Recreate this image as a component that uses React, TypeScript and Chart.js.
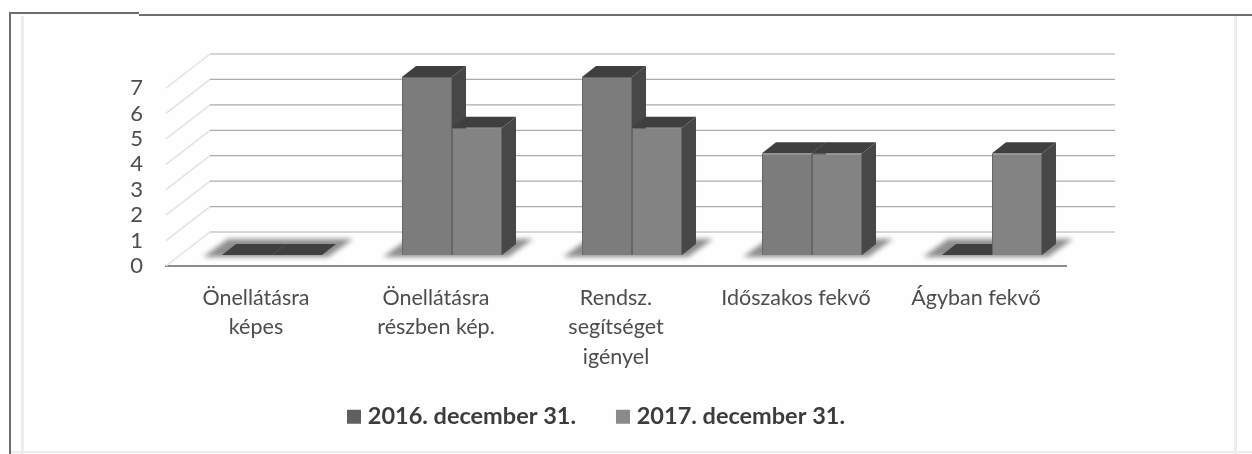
import React, { useEffect, useRef } from "react";
import { Chart, registerables } from "chart.js";

Chart.register(...registerables);

const categories = [
  ["Önellátásra", "képes"],
  ["Önellátásra", "részben kép."],
  ["Rendsz.", "segítséget", "igényel"],
  ["Időszakos fekvő"],
  ["Ágyban fekvő"],
];
const series2016 = [0, 7, 7, 4, 0];
const series2017 = [0, 5, 5, 4, 4];
const seriesNames = ["2016. december 31.", "2017. december 31."];

const W = 1252;
const H = 454;
const AREA_LEFT = 166;
const AREA_RIGHT = 1066;
const AREA_TOP = 88;
const AREA_BOTTOM = 266;
const WALL_DX = 44;
const WALL_DY = -34;
const BAR_DX = 16;
const BAR_DY = -11;
const SIDE_DX = 14;
const SIDE_DY = -11;

const poly = (ctx: CanvasRenderingContext2D, pts: number[][], fill: string) => {
  ctx.beginPath();
  pts.forEach(([x, y], i) => (i ? ctx.lineTo(x, y) : ctx.moveTo(x, y)));
  ctx.closePath();
  ctx.fillStyle = fill;
  ctx.fill();
};

const scenePlugin = {
  id: "scene3d",
  beforeDraw(chart: any) {
    const { ctx } = chart;
    ctx.save();
    ctx.fillStyle = "#fefefe";
    ctx.fillRect(0, 0, W, H);
    // scanned frame
    ctx.fillStyle = "#ececec";
    ctx.fillRect(21, 16, 3, H - 16);
    ctx.fillRect(1234, 16, 3, H - 16);
    ctx.fillRect(10, 451, W - 10, 2);
    ctx.fillStyle = "#6e6e6e";
    ctx.fillRect(9, 12, 2, H - 12);
    ctx.fillRect(9, 12, 130, 2);
    ctx.fillRect(139, 14, W - 139, 2);
    ctx.restore();
  },
  afterLayout(chart: any) {
    const lg = chart.legend;
    if (lg) {
      const w = lg.right - lg.left;
      const h = lg.height;
      lg.left = 307;
      lg.right = lg.left + w;
      lg.top = 360;
      lg.bottom = lg.top + h;
    }
  },
  beforeDatasetsDraw(chart: any) {
    const { ctx, scales } = chart;
    const y = scales.y;
    const x = scales.x;
    ctx.save();
    y.ticks.forEach((t: any) => {
      const py = y.getPixelForValue(t.value);
      // slanted side-wall line
      ctx.strokeStyle = "#e2e2e2";
      ctx.lineWidth = 1.5;
      ctx.beginPath();
      ctx.moveTo(x.left, py);
      ctx.lineTo(x.left + WALL_DX, py + WALL_DY);
      ctx.stroke();
      // back-wall line
      ctx.strokeStyle = "#acacac";
      ctx.lineWidth = 1.2;
      ctx.beginPath();
      ctx.moveTo(x.left + WALL_DX, py + WALL_DY);
      ctx.lineTo(x.right + WALL_DX + 5, py + WALL_DY);
      ctx.stroke();
    });
    // floor shadows
    const base = y.getPixelForValue(0);
    categories.forEach((_, i) => {
      const c = x.getPixelForTick(i);
      ctx.save();
      ctx.filter = "blur(2.5px)";
      poly(
        ctx,
        [
          [c - 53, base - 9],
          [c + 72, base - 9],
          [c + 97, base - 27],
          [c - 28, base - 27],
        ],
        "#8e8e8e"
      );
      ctx.restore();
    });
    ctx.restore();
    ctx.save();
    ctx.translate(BAR_DX, BAR_DY);
    // side and top faces, left series first so the right series overlaps it
    [0, 1].forEach((d) => {
      chart.getDatasetMeta(d).data.forEach((bar: any) => {
        const l = bar.x - bar.width / 2;
        const r = bar.x + bar.width / 2;
        const t = bar.y;
        const b = bar.base;
        poly(
          ctx,
          [
            [r, t],
            [r + SIDE_DX, t + SIDE_DY],
            [r + SIDE_DX, b + SIDE_DY],
            [r, b],
          ],
          "#474747"
        );
        poly(
          ctx,
          [
            [l, t],
            [l + SIDE_DX, t + SIDE_DY],
            [r + SIDE_DX, t + SIDE_DY],
            [r, t],
          ],
          "#3f3f3f"
        );
      });
    });
  },
  afterDatasetsDraw(chart: any) {
    chart.ctx.restore();
  },
};

export default function App() {
  const ref = useRef<HTMLCanvasElement>(null);
  useEffect(() => {
    const chart = new Chart(ref.current!, {
      type: "bar",
      data: {
        labels: categories as any,
        datasets: [
          {
            label: seriesNames[0],
            data: series2016,
            backgroundColor: "#7c7c7c",
            borderColor: "#666666",
            borderWidth: 1,
            clip: false as any,
          },
          {
            label: seriesNames[1],
            data: series2017,
            backgroundColor: "#838383",
            borderColor: "#666666",
            borderWidth: 1,
            clip: false as any,
          },
        ],
      },
      options: {
        animation: false,
        responsive: false,
        devicePixelRatio: 1,
        layout: { padding: { top: AREA_TOP, right: W - AREA_RIGHT, left: 0, bottom: 0 } },
        datasets: { bar: { categoryPercentage: 0.5556, barPercentage: 1 } },
        plugins: {
          tooltip: { enabled: false },
          legend: {
            position: "bottom",
            align: "start",
            labels: {
              boxWidth: 4,
              boxHeight: 4,
              padding: 45,
              color: "#3c3c3c",
              font: { family: "Lato", size: 23.5, weight: "bold" },
              generateLabels(chart: any) {
                const items = Chart.defaults.plugins.legend.labels.generateLabels(chart);
                return items.map((it: any, i: number) => ({
                  ...it,
                  fillStyle: i === 0 ? "#5f5f5f" : "#8a8a8a",
                  strokeStyle: i === 0 ? "#5f5f5f" : "#8a8a8a",
                  lineWidth: 10,
                }));
              },
            },
          },
        },
        scales: {
          x: {
            grid: { display: false, drawTicks: false },
            border: { display: true, color: "#8c8c8c", width: 2 },
            ticks: {
              color: "#4d4d4d",
              padding: 18,
              maxRotation: 0,
              autoSkip: false,
              font: { family: "Lato", size: 21.5, lineHeight: 1.35 },
            },
            afterFit(axis: any) {
              axis.height = H - AREA_BOTTOM - (axis.chart.legend?.height ?? 0);
            },
          },
          y: {
            min: 0,
            max: 7,
            grid: { display: false, drawTicks: false },
            border: { display: false },
            ticks: {
              stepSize: 1,
              autoSkip: false,
              color: "#4d4d4d",
              padding: 23,
              font: { family: "Lato", size: 22 },
            },
            afterFit(axis: any) {
              axis.width = AREA_LEFT;
            },
          },
        },
      },
      plugins: [scenePlugin],
    } as any);
    return () => chart.destroy();
  }, []);
  return (
    <div style={{ position: "fixed", left: 0, top: 0, width: W, height: H }}>
      <canvas ref={ref} width={W} height={H} style={{ display: "block", filter: "blur(0.6px)" }} />
    </div>
  );
}
